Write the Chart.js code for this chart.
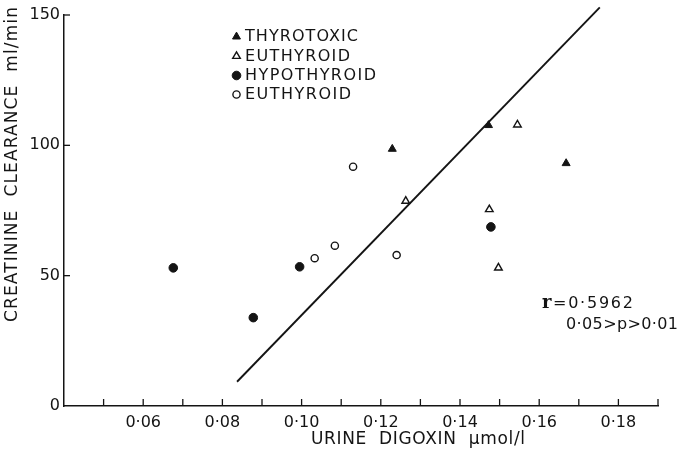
<!DOCTYPE html>
<html>
<head>
<meta charset="utf-8">
<script src="https://cdn.jsdelivr.net/npm/chart.js@4/dist/chart.umd.min.js"></script>
<style>
  html, body { margin: 0; padding: 0; background: #fff; }
  #wrap { width: 679px; height: 453px; }
</style>
</head>
<body>
<div id="wrap"><canvas id="myChart" width="679" height="453"></canvas></div>
<script>
// values
const thyrotoxicX = [0.1229, 0.1472, 0.1668];
const thyrotoxicY = [98.6, 107.7, 93.1];
const euthyroidTriX = [0.1263, 0.1474, 0.1497, 0.1545];
const euthyroidTriY = [78.6, 75.4, 53.0, 107.9];
const hypothyroidX = [0.0676, 0.0878, 0.0995, 0.1478];
const hypothyroidY = [53.0, 33.9, 53.4, 68.7];
const euthyroidCircX = [0.1033, 0.1084, 0.1130, 0.1240];
const euthyroidCircY = [56.7, 61.5, 91.8, 57.9];
const regressionX = [0.0837, 0.1753];
const regressionY = [9.3, 152.9];
const xLabels = [0.06, 0.08, 0.10, 0.12, 0.14, 0.16, 0.18];
const yLabels = [0, 50, 100, 150];

const ink = "#141414";
const FONT = "'DejaVu Sans', sans-serif";

function toPoints(xs, ys) {
  return xs.map((x, i) => ({ x: x, y: ys[i] }));
}

function marker(label, xs, ys, style, filled, r) {
  return {
    type: "scatter",
    label: label,
    data: toPoints(xs, ys),
    pointStyle: style,
    pointRadius: r,
    pointHoverRadius: r,
    pointBorderWidth: filled ? 1 : 1.4,
    pointBorderColor: ink,
    pointBackgroundColor: filled ? ink : "#fff",
    _filled: filled
  };
}

const datasets = [
  marker("THYROTOXIC", thyrotoxicX, thyrotoxicY, "triangle", true, 4.6),
  marker("EUTHYROID", euthyroidTriX, euthyroidTriY, "triangle", false, 4.4),
  marker("HYPOTHYROID", hypothyroidX, hypothyroidY, "circle", true, 4.3),
  marker("EUTHYROID", euthyroidCircX, euthyroidCircY, "circle", false, 3.6),
  {
    type: "line",
    label: "regression",
    data: toPoints(regressionX, regressionY),
    borderColor: ink,
    borderWidth: 1.9,
    pointRadius: 0,
    fill: false,
    clip: false
  }
];

function drawMark(ctx, ds, x, y) {
  const r = ds.pointRadius;
  ctx.save();
  ctx.lineWidth = ds.pointBorderWidth;
  ctx.strokeStyle = ink;
  ctx.fillStyle = ds._filled ? ink : "#fff";
  ctx.beginPath();
  if (ds.pointStyle === "circle") {
    ctx.arc(x, y, r, 0, Math.PI * 2);
  } else {
    for (let k = 0; k < 3; k++) {
      const a = k * 2 * Math.PI / 3;
      const px = x + Math.sin(a) * r, py = y - Math.cos(a) * r;
      if (k === 0) ctx.moveTo(px, py); else ctx.lineTo(px, py);
    }
    ctx.closePath();
  }
  ctx.fill();
  ctx.stroke();
  ctx.restore();
}

function spacedText(ctx, text, x, y, width) {
  ctx.letterSpacing = "0px";
  const w = ctx.measureText(text).width;
  const sp = Math.max(0, (width - w) / (text.length - 1));
  ctx.letterSpacing = sp + "px";
  ctx.fillText(text, x, y);
  ctx.letterSpacing = "0px";
}

const legendWidths = [113, 105, 131, 106];

const decorations = {
  id: "decorations",
  afterDraw(chart) {
    const ctx = chart.ctx;
    const xs = chart.scales.x, ys = chart.scales.y;
    const area = chart.chartArea;
    ctx.save();
    ctx.strokeStyle = ink;
    ctx.lineWidth = 1.3;
    // inward tick marks
    xs.ticks.forEach(t => {
      if (t.value <= xs.min + 1e-9) return;
      const px = xs.getPixelForValue(t.value);
      ctx.beginPath();
      ctx.moveTo(px, area.bottom);
      ctx.lineTo(px, area.bottom - 7);
      ctx.stroke();
    });
    ys.ticks.forEach(t => {
      if (t.value === 0) return;
      const py = ys.getPixelForValue(t.value);
      ctx.beginPath();
      ctx.moveTo(area.left - 1, py);
      ctx.lineTo(area.left + 6, py);
      ctx.stroke();
    });

    ctx.fillStyle = ink;
    ctx.textBaseline = "middle";
    // legend
    ctx.font = "16px " + FONT;
    ctx.textAlign = "left";
    const legendRows = [36.7, 56.2, 75.5, 94.5];
    datasets.slice(0, 4).forEach((ds, i) => {
      drawMark(ctx, ds, 236.5, legendRows[i]);
      spacedText(ctx, ds.label, 245, legendRows[i] + 0.5, legendWidths[i]);
    });

    // axis titles
    ctx.font = "17px " + FONT;
    ctx.textAlign = "left";
    spacedText(ctx, "URINE  DIGOXIN  \u00b5mol/l", 311, 440, 214);
    ctx.save();
    ctx.translate(13, 322);
    ctx.rotate(-Math.PI / 2);
    spacedText(ctx, "CREATININE  CLEARANCE  ml/min", 0, 0, 315);
    ctx.restore();

    // correlation note
    ctx.font = "bold 18px 'DejaVu Serif', serif";
    ctx.fillText("r", 542, 303);
    ctx.font = "16px " + FONT;
    spacedText(ctx, "=0\u00b75962", 553, 304, 80);
    spacedText(ctx, "0\u00b705>p>0\u00b701", 566, 325, 112);
    ctx.restore();
  }
};

const myChart = document.getElementById("myChart");
new Chart(myChart, {
  data: { datasets },
  options: {
    responsive: false,
    animation: false,
    events: [],
    layout: { padding: { top: 15, right: 21, left: 0, bottom: 0 } },
    plugins: { legend: { display: false }, tooltip: { enabled: false } },
    scales: {
      x: {
        type: "linear",
        min: 0.04,
        max: 0.19,
        afterFit(scale) { scale.height = 47; },
        afterBuildTicks(scale) {
          const t = [];
          for (let i = 4; i <= 19; i++) t.push({ value: i / 100 });
          scale.ticks = t;
        },
        ticks: {
          color: ink,
          padding: 7,
          maxRotation: 0,
          autoSkip: false,
          font: { family: FONT, size: 16 },
          callback(v) {
            const hit = xLabels.some(l => Math.abs(l - v) < 1e-6);
            return hit ? v.toFixed(2).replace(".", "\u00b7") : "";
          }
        },
        grid: { display: false, drawTicks: false },
        border: { display: true, color: ink, width: 1.5 }
      },
      y: {
        type: "linear",
        min: 0,
        max: 150,
        afterFit(scale) { scale.width = 64; },
        afterBuildTicks(scale) {
          scale.ticks = yLabels.map(v => ({ value: v }));
        },
        ticks: {
          color: ink,
          padding: 4,
          font: { family: FONT, size: 16 }
        },
        grid: { display: false, drawTicks: false },
        border: { display: true, color: ink, width: 1.5 }
      }
    }
  },
  plugins: [decorations]
});
</script>
</body>
</html>
